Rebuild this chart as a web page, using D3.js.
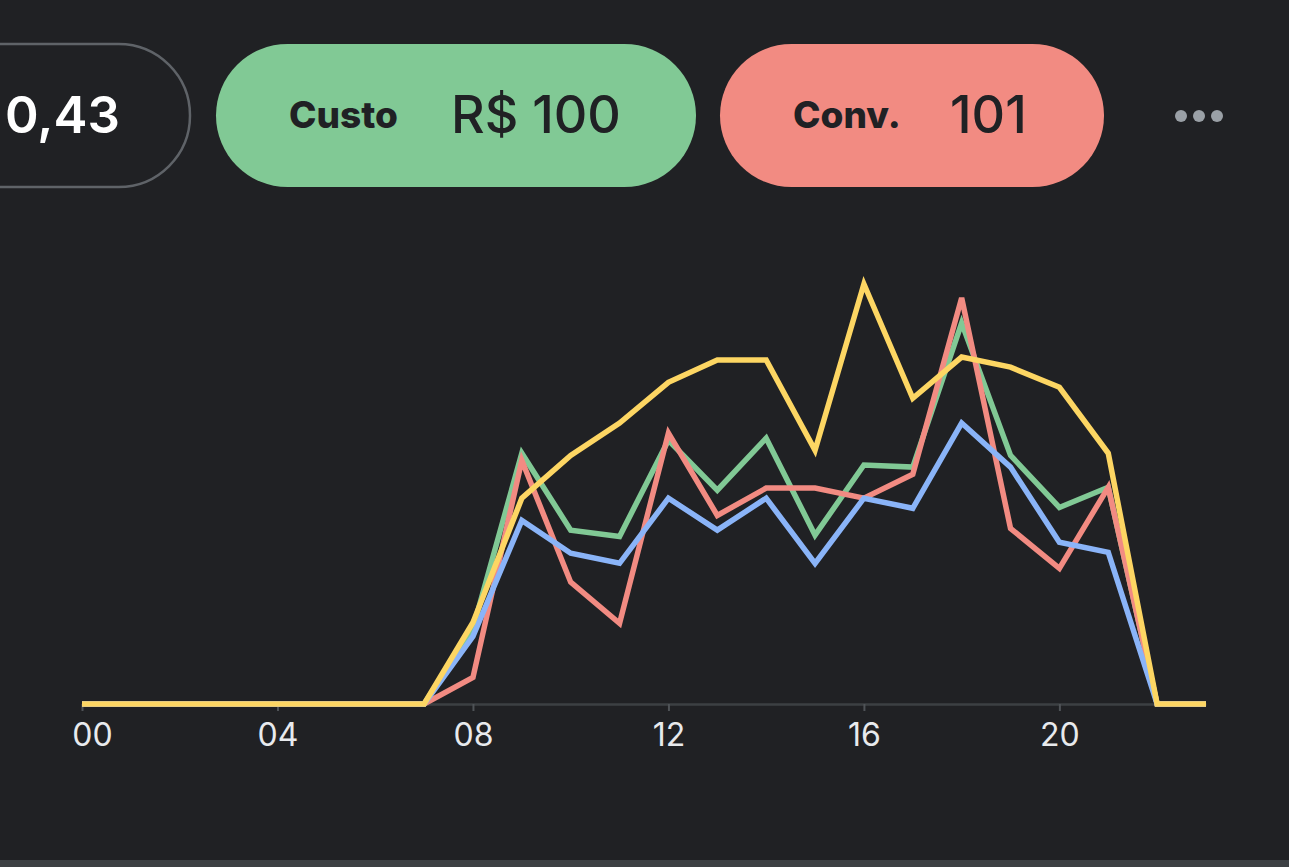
<!DOCTYPE html>
<html lang="pt">
<head>
<meta charset="utf-8">
<title>Hourly chart</title>
<script src="https://cdn.jsdelivr.net/npm/d3@7"></script>
<style>
  html, body { margin: 0; padding: 0; background: #202124; overflow: hidden; }
  svg { display: block; font-family: Inter, "Noto Sans", sans-serif; }
  .axis path.domain { stroke: #3c4043; stroke-width: 2.5; }
  .axis line { stroke: #4f5357; stroke-width: 2; }
  .axis text { fill: #e8eaed; font-size: 32px; font-family: Inter, sans-serif; }
  .series { fill: none; stroke-width: 5.5; stroke-linejoin: miter; }
</style>
</head>
<body>
<script>
// hours 0..23
var hours = d3.range(0, 24)
var tickHours = [0, 4, 8, 12, 16, 20]

// values (relative scale, peak = 100)
var blue   = [0,0,0,0,0,0,0,0, 16.1,43.7,35.9,33.5,49.0,41.4,49.0,33.5,49.0,46.6,66.9,56.4,38.5,36.1,0,0]
var green  = [0,0,0,0,0,0,0,0, 18.0,59.7,41.4,39.9,62.8,50.9,63.3,40.2,56.9,56.4,90.7,59.2,46.8,51.6,0,0]
var red    = [0,0,0,0,0,0,0,0, 6.3,58.0,29.0,19.2,64.5,44.9,51.4,51.4,49.0,54.7,96.7,41.8,32.3,51.6,0,0]
var yellow = [0,0,0,0,0,0,0,0, 19.4,49.0,59.2,66.9,76.6,81.9,81.9,60.4,100,72.8,82.6,80.2,75.4,59.7,0,0]

// summary pills
var pillLabels = ["", "Custo", "Conv."]
var pillValues = ["0,43", "R$ 100", "101"]

var W = 1289, H = 867

var svg = d3.select("body").append("svg")
    .attr("width", W)
    .attr("height", H)

// bottom strip
svg.append("rect")
    .attr("x", 0).attr("y", 860)
    .attr("width", W).attr("height", 7)
    .attr("fill", "#3c4043")

// ---- pills ----
var pills = [
    {x: -300, w: 490, fill: "none", stroke: "#5f6368", labelX: 0, valueX: 5, valueColor: "#ffffff", valueWeight: 600},
    {x: 216, w: 480, fill: "#81c995", stroke: "none", labelX: 289, valueX: 451, valueColor: "#202124", valueWeight: 500},
    {x: 720, w: 384, fill: "#f28b82", stroke: "none", labelX: 793, valueX: 950, valueColor: "#202124", valueWeight: 500}
]
var pillTop = 44, pillH = 143

var pg = svg.selectAll(".pill")
    .data(pills)
    .enter()
    .append("g")
        .attr("class", "pill")

pg.append("rect")
    .attr("x", function(d) { return d.x })
    .attr("y", pillTop)
    .attr("width", function(d) { return d.w })
    .attr("height", pillH)
    .attr("rx", pillH / 2)
    .attr("fill", function(d) { return d.fill })
    .attr("stroke", function(d) { return d.stroke })
    .attr("stroke-width", 2.5)

pg.append("text")
    .attr("x", function(d) { return d.labelX })
    .attr("y", 128)
    .attr("fill", "#202124")
    .attr("font-size", 37)
    .attr("font-weight", 800)
    .text(function(d, i) { return pillLabels[i] })

pg.append("text")
    .attr("x", function(d) { return d.valueX })
    .attr("y", 133)
    .attr("fill", function(d) { return d.valueColor })
    .attr("font-size", function(d, i) { return i == 0 ? 51 : 52 })
    .attr("font-weight", function(d) { return d.valueWeight })
    .text(function(d, i) { return pillValues[i] })

// more dots
svg.selectAll(".dot")
    .data([0, 1, 2])
    .enter()
    .append("circle")
        .attr("class", "dot")
        .attr("cx", function(d) { return 1181 + d * 18 })
        .attr("cy", 116)
        .attr("r", 6)
        .attr("fill", "#9aa0a6")

// ---- chart ----
var x = d3.scaleLinear().domain([0, 23]).range([82, 1206])
var y = d3.scaleLinear().domain([0, 100]).range([704, 284])

var axis = d3.axisBottom(x)
    .tickValues(tickHours)
    .tickSize(7)
    .tickSizeOuter(0)
    .tickFormat(function(d) { return d3.format("02d")(d) })

var ax = svg.append("g")
    .attr("class", "axis")
    .attr("transform", "translate(0," + y(0) + ")")
    .call(axis)
ax.selectAll("text")
    .attr("y", 42)
    .attr("dy", 0)
    .attr("dx", function(d, i) { return i == 0 ? 10 : 0 })

var line = d3.line()
    .x(function(d, i) { return x(hours[i]) })
    .y(function(d) { return y(d) })

var series = [
    {values: green, color: "#81c995"},
    {values: red, color: "#f28b82"},
    {values: blue, color: "#8ab4f8"},
    {values: yellow, color: "#fdd663"}
]

svg.selectAll(".series")
    .data(series)
    .enter()
    .append("path")
        .attr("class", "series")
        .attr("stroke", function(d) { return d.color })
        .attr("d", function(d) { return line(d.values) })
</script>
</body>
</html>
